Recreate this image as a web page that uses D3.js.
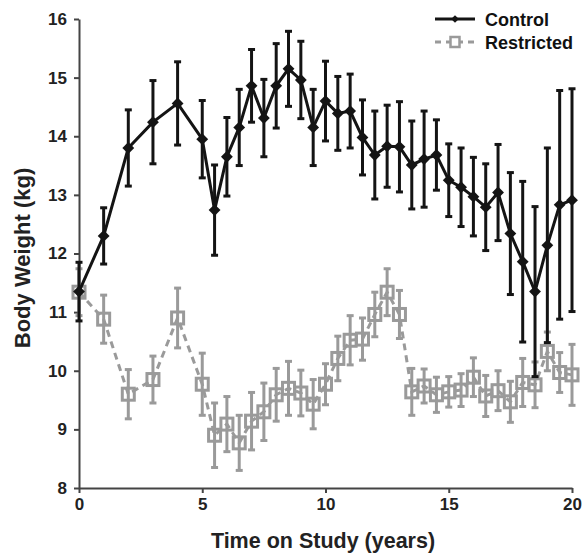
<!DOCTYPE html>
<html>
<head>
<meta charset="utf-8">
<script src="https://cdn.jsdelivr.net/npm/d3@7"></script>
<style>
body { margin: 0; background: #fff; }
text { font-family: "Liberation Sans", Arial, sans-serif; font-weight: bold; }
</style>
</head>
<body>
<script>
var years = [0, 1, 2, 3, 4, 5, 5.5, 6, 6.5, 7, 7.5, 8, 8.5, 9, 9.5, 10, 10.5, 11, 11.5, 12,
    12.5, 13, 13.5, 14, 14.5, 15, 15.5, 16, 16.5, 17, 17.5, 18, 18.5, 19, 19.5, 20];

var control = [11.35, 12.30, 13.80, 14.24, 14.56, 13.95, 12.74, 13.65, 14.15, 14.86, 14.31, 14.86,
    15.15, 14.96, 14.15, 14.60, 14.39, 14.43, 13.98, 13.68, 13.83, 13.82, 13.51, 13.61, 13.68,
    13.25, 13.13, 12.97, 12.79, 13.04, 12.34, 11.86, 11.35, 12.14, 12.83, 12.91];
var controlErr = [0.5, 0.48, 0.65, 0.71, 0.71, 0.66, 0.77, 0.67, 0.65, 0.62, 0.66, 0.72,
    0.64, 0.66, 0.65, 0.68, 0.63, 0.63, 0.64, 0.75, 0.70, 0.77, 0.75, 0.82, 0.60,
    0.62, 0.67, 0.67, 0.74, 0.82, 1.04, 1.37, 1.45, 1.66, 1.95, 1.9];

var restricted = [11.34, 10.88, 9.60, 9.85, 10.90, 9.77, 8.90, 9.09, 8.77, 9.14, 9.30, 9.59,
    9.70, 9.62, 9.43, 9.77, 10.21, 10.52, 10.54, 10.96, 11.34, 10.96, 9.64, 9.74, 9.59,
    9.64, 9.67, 9.89, 9.57, 9.66, 9.47, 9.80, 9.76, 10.33, 9.97, 9.93];
var restrictedErr = [0.4, 0.41, 0.42, 0.40, 0.51, 0.53, 0.55, 0.47, 0.47, 0.49, 0.49, 0.45,
    0.46, 0.39, 0.42, 0.35, 0.38, 0.42, 0.36, 0.38, 0.40, 0.41, 0.40, 0.29, 0.30,
    0.26, 0.28, 0.33, 0.35, 0.34, 0.35, 0.41, 0.39, 0.33, 0.34, 0.52];

var xTicks = [0, 5, 10, 15, 20];
var yTicks = [8, 9, 10, 11, 12, 13, 14, 15, 16];
var seriesNames = ["Control", "Restricted"];

var width = 583, height = 554;
var margin = { top: 19, right: 11, bottom: 66, left: 79 };
var black = "#141414", gray = "#9a9a9a";

var svg = d3.select("body").append("svg")
    .attr("width", width)
    .attr("height", height);

var x = d3.scaleLinear().domain([0, 20]).range([margin.left, width - margin.right]);
var y = d3.scaleLinear().domain([8, 16]).range([height - margin.bottom, margin.top]);

var xAxis = g => g
    .attr("transform", `translate(0,${y(8)})`)
    .call(d3.axisBottom(x).tickValues(xTicks).tickSize(5).tickPadding(5).tickSizeOuter(0))
    .call(g => g.selectAll("text").attr("font-size", 17).attr("fill", "#222"));

var yAxis = g => g
    .attr("transform", `translate(${x(0)},0)`)
    .call(d3.axisLeft(y).tickValues(yTicks).tickSize(5).tickPadding(7).tickSizeOuter(0))
    .call(g => g.selectAll("text").attr("font-size", 17).attr("fill", "#222"));

svg.append("g").call(xAxis)
    .call(g => g.selectAll("line,path").attr("stroke", "#444").attr("stroke-width", 2));
svg.append("g").call(yAxis)
    .call(g => g.selectAll("line,path").attr("stroke", "#444").attr("stroke-width", 2));

svg.append("text")
    .attr("x", 323)
    .attr("y", 548)
    .attr("text-anchor", "middle")
    .attr("font-size", 21.5)
    .attr("fill", "#222")
    .text("Time on Study (years)");

svg.append("text")
    .attr("transform", `translate(30,258) rotate(-90)`)
    .attr("text-anchor", "middle")
    .attr("font-size", 22)
    .attr("fill", "#222")
    .text("Body Weight (kg)");

function drawSeries(vals, errs, color, dashed, marker) {
    var pts = years.map((t, i) => ({ t: t, v: vals[i], e: errs[i] }));
    var g = svg.append("g");

    var bars = g.append("g").attr("stroke", color).attr("stroke-width", 3);
    bars.selectAll("line.bar").data(pts).enter().append("line")
        .attr("x1", d => x(d.t)).attr("x2", d => x(d.t))
        .attr("y1", d => y(d.v - d.e)).attr("y2", d => y(d.v + d.e));
    bars.selectAll("line.top").data(pts).enter().append("line")
        .attr("x1", d => x(d.t) - 3.5).attr("x2", d => x(d.t) + 3.5)
        .attr("y1", d => y(d.v + d.e)).attr("y2", d => y(d.v + d.e));
    bars.selectAll("line.bot").data(pts).enter().append("line")
        .attr("x1", d => x(d.t) - 3.5).attr("x2", d => x(d.t) + 3.5)
        .attr("y1", d => y(d.v - d.e)).attr("y2", d => y(d.v - d.e));

    g.append("path")
        .datum(pts)
        .attr("fill", "none")
        .attr("stroke", color)
        .attr("stroke-width", 3)
        .attr("stroke-dasharray", dashed ? "7,5" : null)
        .attr("d", d3.line().x(d => x(d.t)).y(d => y(d.v)));

    if (marker === "diamond") {
        g.selectAll("path.m").data(pts).enter().append("path")
            .attr("d", d3.symbol(d3.symbolSquare, 70))
            .attr("transform", d => `translate(${x(d.t)},${y(d.v)}) rotate(45)`)
            .attr("fill", color);
    } else {
        g.selectAll("rect.m").data(pts).enter().append("rect")
            .attr("x", d => x(d.t) - 6).attr("y", d => y(d.v) - 6)
            .attr("width", 12).attr("height", 12)
            .attr("fill", "none")
            .attr("stroke", color)
            .attr("stroke-width", 3);
    }
}

drawSeries(restricted, restrictedErr, gray, true, "square");
drawSeries(control, controlErr, black, false, "diamond");

// legend
var legend = svg.append("g");
var legendItems = [
    { name: seriesNames[0], color: black, dashed: false, marker: "diamond", yy: 19 },
    { name: seriesNames[1], color: gray, dashed: true, marker: "square", yy: 42 }
];
legendItems.forEach(it => {
    legend.append("line")
        .attr("x1", 435).attr("x2", 475)
        .attr("y1", it.yy).attr("y2", it.yy)
        .attr("stroke", it.color).attr("stroke-width", 3)
        .attr("stroke-dasharray", it.dashed ? "6,5" : null);
    if (it.marker === "diamond") {
        legend.append("path")
            .attr("d", d3.symbol(d3.symbolSquare, 30))
            .attr("transform", `translate(455,${it.yy}) rotate(45)`)
            .attr("fill", it.color);
    } else {
        legend.append("rect")
            .attr("x", 450.5).attr("y", it.yy - 5)
            .attr("width", 9).attr("height", 10)
            .attr("fill", "#fff")
            .attr("stroke", it.color).attr("stroke-width", 2.5);
    }
    legend.append("text")
        .attr("x", 485).attr("y", it.yy + 7)
        .attr("font-size", 18)
        .attr("fill", "#111")
        .text(it.name);
});
</script>
</body>
</html>
